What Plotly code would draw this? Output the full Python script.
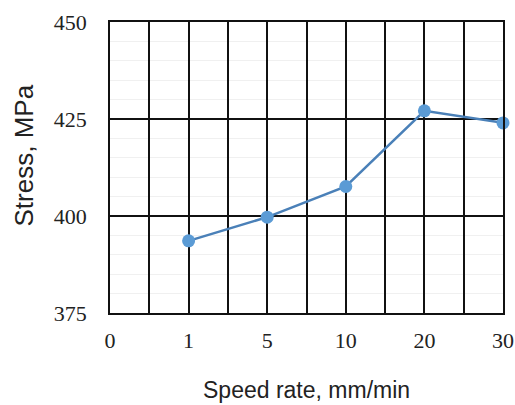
import plotly.graph_objects as go

categories = ["0", "1", "5", "10", "20", "30"]
speed_rate = ["1", "5", "10", "20", "30"]
stress = [393.6, 399.7, 407.6, 427.1, 424.0]

pos = {c: i for i, c in enumerate(categories)}
xs = [pos[c] for c in speed_rate]

tickvals = []
ticktext = []
for i, c in enumerate(categories):
    tickvals.append(i)
    ticktext.append(c)
    if i < len(categories) - 1:
        tickvals.append(i + 0.5)
        ticktext.append("")

fig = go.Figure()
fig.add_trace(go.Scatter(
    x=xs, y=stress, mode="lines+markers",
    line=dict(color="#4a80b8", width=2.5),
    marker=dict(color="#5b9bd5", size=13),
    showlegend=False, cliponaxis=False,
))

serif = "Liberation Serif, Times New Roman, serif"
sans = "Liberation Sans, Arial, sans-serif"

fig.update_layout(
    width=515, height=405,
    margin=dict(l=110, r=12, t=22, b=92),
    paper_bgcolor="white", plot_bgcolor="white",
    xaxis=dict(
        range=[0, 5], tickvals=tickvals, ticktext=ticktext,
        showgrid=True, gridcolor="#111", gridwidth=1.5,
        showline=True, linecolor="#111", linewidth=1.5, mirror=True,
        zeroline=False, ticks="", ticklabelstandoff=7, automargin=False,
        tickfont=dict(family=serif, size=22, color="#222"),
    ),
    yaxis=dict(
        range=[375, 450], tickvals=[375, 400, 425, 450],
        showgrid=True, gridcolor="#111", gridwidth=1.5,
        minor=dict(dtick=5, showgrid=True, gridcolor="#f0f0f0", gridwidth=1),
        showline=True, linecolor="#111", linewidth=1.5, mirror=True,
        zeroline=False, ticks="", ticklabelstandoff=17, automargin=False,
        tickfont=dict(family=serif, size=22, color="#222"),
    ),
    annotations=[
        dict(text="Speed rate, mm/min", xref="paper", yref="paper",
             x=0.5, y=0, yshift=-77, xanchor="center", yanchor="middle",
             showarrow=False, font=dict(family=sans, size=23, color="#222")),
        dict(text="Stress, MPa", xref="paper", yref="paper",
             x=0, y=0.5, xshift=-87, xanchor="center", yanchor="middle",
             textangle=-90, yshift=12,
             showarrow=False, font=dict(family=sans, size=26, color="#222")),
    ],
)

fig.write_html("out.html")
